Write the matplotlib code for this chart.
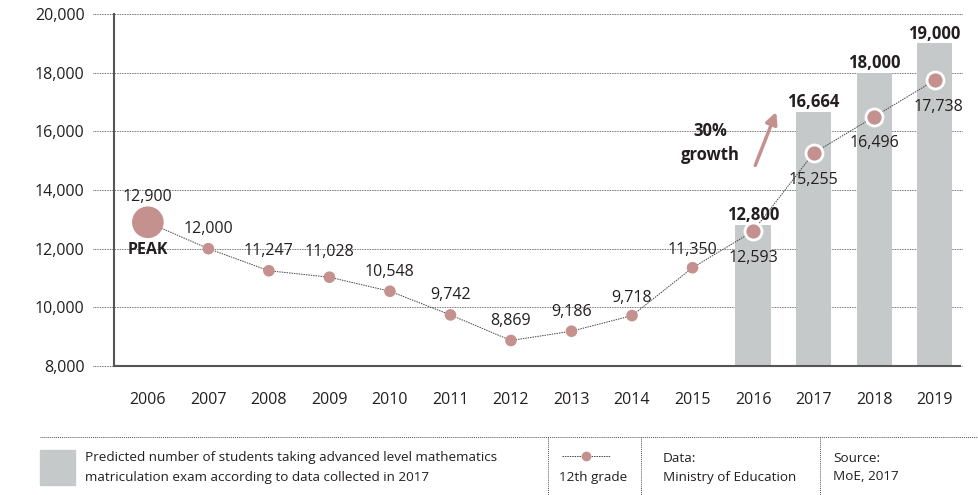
import matplotlib
matplotlib.use('Agg')
import matplotlib.pyplot as plt
from matplotlib.lines import Line2D

plt.rcParams['font.family'] = ['Open Sans', 'DejaVu Sans']

# data
years = ['2006', '2007', '2008', '2009', '2010', '2011', '2012',
         '2013', '2014', '2015', '2016', '2017', '2018', '2019']
grade12 = [12900, 12000, 11247, 11028, 10548, 9742, 8869,
           9186, 9718, 11350, 12593, 15255, 16496, 17738]
bar_years = ['2016', '2017', '2018', '2019']
predicted = [12800, 16664, 18000, 19000]
yticks = [8000, 10000, 12000, 14000, 16000, 18000, 20000]

TXT = '#231f20'
DOT = '#c4918e'
BAR = '#c6c9c9'

fig = plt.figure(figsize=(9.79, 4.95), dpi=100)
ax = fig.add_axes([0.1164, 0.2606, 0.8642, 0.7111])

xs = list(range(len(years)))
bx = [years.index(y) for y in bar_years]

ax.bar(bx, predicted, width=0.58, color=BAR, zorder=1)

# dotted gridlines reaching left under the tick labels
for t in yticks:
    ax.plot([-0.9, 13.45], [t, t], ls=(0, (1, 1)), lw=0.6, color='#444444',
            clip_on=False, zorder=0)

ax.plot(xs, grade12, ls=(0, (1.5, 1)), lw=0.7, color='#444444', zorder=2)
ax.scatter(xs[1:10], grade12[1:10], s=70, color=DOT, edgecolor='none', zorder=3)
ax.scatter(xs[0], grade12[0], s=520, color=DOT, edgecolor='none', zorder=3)
ax.scatter(xs[10:], grade12[10:], s=150, color=DOT, edgecolor='white', linewidth=2, zorder=3)

ax.set_xlim(-0.56, 13.42)
ax.set_ylim(8000, 20000)
ax.set_yticks(yticks)
ax.set_yticklabels([f'{t:,}' for t in yticks], fontsize=11.5, color=TXT)
ax.set_xticks(xs)
ax.set_xticklabels(years, fontsize=11.5, color=TXT)
ax.tick_params(axis='y', length=0, pad=21)
ax.tick_params(axis='x', length=0, pad=19)
for s in ['top', 'right']:
    ax.spines[s].set_visible(False)
for s in ['left', 'bottom']:
    ax.spines[s].set_color('#555555')
    ax.spines[s].set_linewidth(1.5)

# value labels for the grade 12 line
above = {0: 18, 1: 14, 2: 14, 3: 18, 4: 14, 5: 14, 6: 14, 7: 14, 8: 13, 9: 13}
for i, v in enumerate(grade12):
    if i in above:
        ax.annotate(f'{v:,}', (i, v), xytext=(0, above[i]), textcoords='offset points',
                    ha='center', va='center', fontsize=11.5, color=TXT, zorder=5)
    else:
        ax.annotate(f'{v:,}', (i, v), xytext=(3 if i == 13 else 0, -19),
                    textcoords='offset points',
                    ha='center', va='center', fontsize=11.5, color=TXT, zorder=5)

ax.annotate('PEAK', (0, grade12[0]), xytext=(0, -20), textcoords='offset points',
            ha='center', va='center', fontsize=11.5, fontweight='bold', color=TXT)

for x, v in zip(bx, predicted):
    ax.annotate(f'{v:,}', (x, v), xytext=(0, 7), textcoords='offset points',
                ha='center', va='center', fontsize=12, fontweight='bold', color=TXT)

# growth arrow
ax.annotate('', xy=(10.4, 16750), xytext=(10.02, 14750),
            arrowprops=dict(arrowstyle='-|>,head_width=0.35,head_length=0.7',
                            color=DOT, lw=2.5))
ax.text(9.3, 16000, '30%', ha='center', va='center', fontsize=12,
        fontweight='bold', color=TXT)
ax.text(9.3, 15200, 'growth', ha='center', va='center', fontsize=12,
        fontweight='bold', color=TXT)

# legend strip at the bottom
W, H = 979, 495
def fx(px):
    return px / W
def fy(py):
    return 1 - py / H

fig.add_artist(Line2D([fx(40), fx(979)], [fy(437), fy(437)], ls=(0, (1, 1)),
                      lw=0.7, color='#555555'))
for px in [548, 641, 820]:
    fig.add_artist(Line2D([fx(px), fx(px)], [fy(437), fy(495)], ls=(0, (1, 1)),
                          lw=0.7, color='#555555'))
fig.add_artist(plt.Rectangle((fx(40), fy(485)), 35 / W, 35 / H, color=BAR,
                             transform=fig.transFigure))
fig.text(fx(85), fy(458), 'Predicted number of students taking advanced level mathematics',
         fontsize=9.7, color=TXT, va='center')
fig.text(fx(85), fy(477), 'matriculation exam according to data collected in 2017',
         fontsize=9.7, color=TXT, va='center')
fig.add_artist(Line2D([fx(562), fx(610)], [fy(456), fy(456)], ls=(0, (1.5, 1)),
                      lw=0.7, color='#444444'))
fig.add_artist(Line2D([fx(586)], [fy(456)], marker='o', ms=7, color=DOT, mec='none',
                      transform=fig.transFigure))
fig.text(fx(593), fy(477), '12th grade', fontsize=9.7, color=TXT, ha='center', va='center')
fig.text(fx(663), fy(458), 'Data:', fontsize=9.7, color=TXT, va='center')
fig.text(fx(663), fy(477), 'Ministry of Education', fontsize=9.7, color=TXT, va='center')
fig.text(fx(833), fy(458), 'Source:', fontsize=9.7, color=TXT, va='center')
fig.text(fx(833), fy(477), 'MoE, 2017', fontsize=9.7, color=TXT, va='center')

fig.savefig('out.png', dpi=100, facecolor='white')
